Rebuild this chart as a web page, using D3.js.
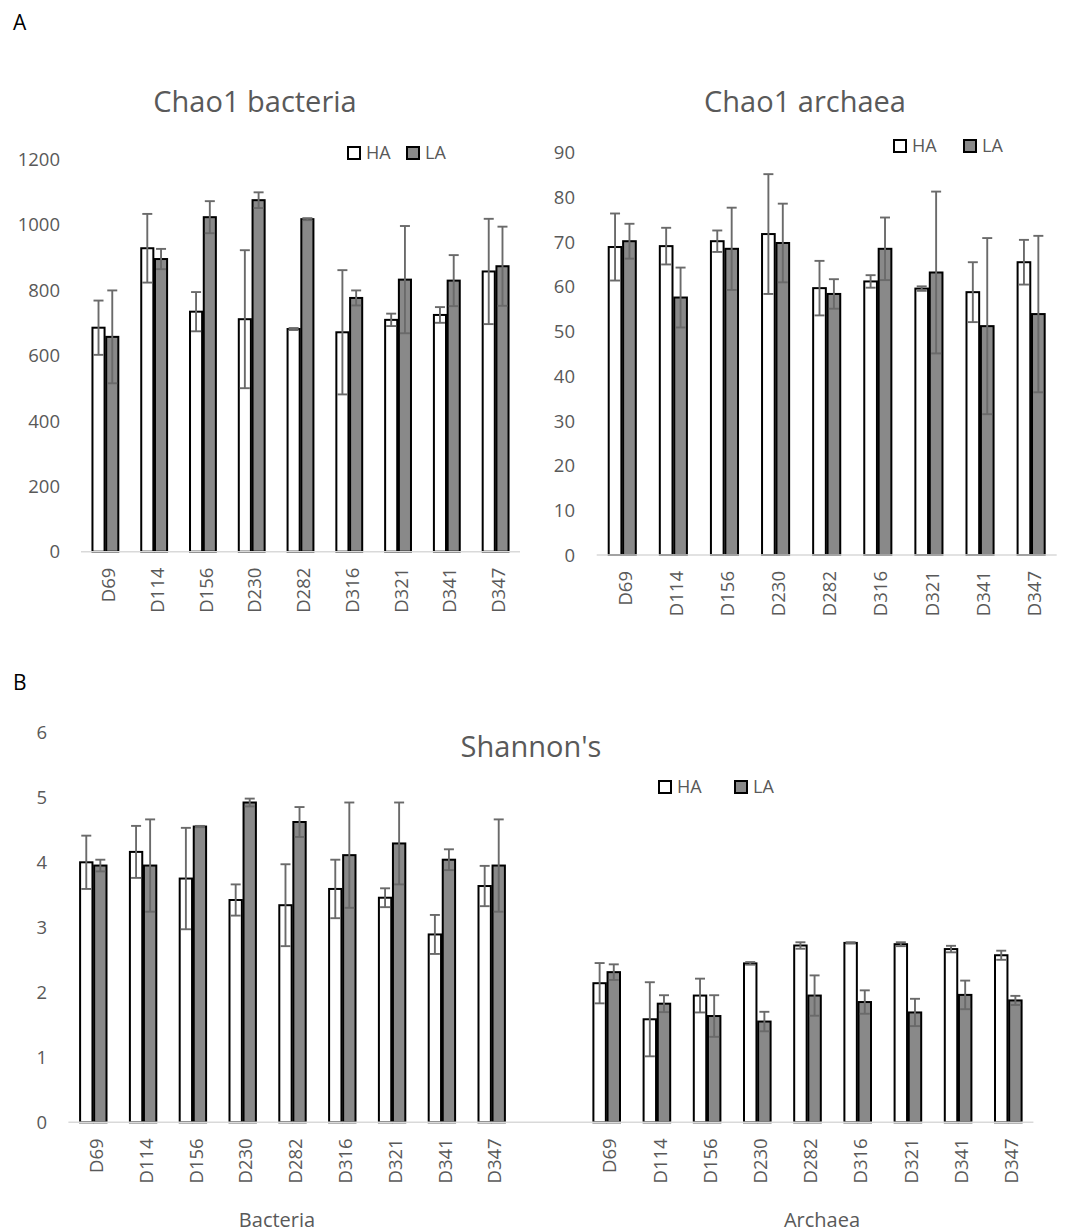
<!DOCTYPE html>
<html>
<head>
<meta charset="utf-8">
<script src="https://cdn.jsdelivr.net/npm/d3@7"></script>
<style>
  body { margin: 0; background: #fff; }
  text { font-family: "Open Sans", sans-serif; fill: #595959; }
</style>
</head>
<body>
<div class="chart"></div>
<script>
// categories and series
var categories = ["D69", "D114", "D156", "D230", "D282", "D316", "D321", "D341", "D347"];
var series = ["HA", "LA"];

// Chao1 bacteria
var chaoBactHA = [685, 928, 734, 711, 681, 671, 709, 724, 857];
var chaoBactHAErr = [83, 105, 60, 211, 3, 190, 19, 24, 161];
var chaoBactLA = [657, 895, 1023, 1075, 1017, 776, 832, 829, 873];
var chaoBactLAErr = [142, 31, 49, 24, 3, 23, 164, 78, 121];

// Chao1 archaea
var chaoArchHA = [68.9, 69.1, 70.2, 71.8, 59.7, 61.2, 59.6, 58.8, 65.5];
var chaoArchHAErr = [7.5, 4.1, 2.4, 13.4, 6.1, 1.4, 0.5, 6.7, 5.0];
var chaoArchLA = [70.2, 57.6, 68.5, 69.8, 58.4, 68.5, 63.2, 51.2, 53.9];
var chaoArchLAErr = [3.9, 6.7, 9.2, 8.8, 3.3, 7.0, 18.1, 19.7, 17.5];

// Shannon's bacteria
var shanBactHA = [4.00, 4.16, 3.75, 3.42, 3.34, 3.59, 3.455, 2.89, 3.635];
var shanBactHAErr = [0.41, 0.40, 0.78, 0.24, 0.63, 0.45, 0.145, 0.30, 0.31];
var shanBactLA = [3.95, 3.95, 4.55, 4.92, 4.62, 4.11, 4.29, 4.04, 3.95];
var shanBactLAErr = [0.09, 0.71, 0.01, 0.06, 0.23, 0.81, 0.63, 0.16, 0.71];

// Shannon's archaea
var shanArchHA = [2.14, 1.585, 1.95, 2.445, 2.72, 2.76, 2.74, 2.665, 2.57];
var shanArchHAErr = [0.31, 0.57, 0.26, 0.02, 0.05, 0.01, 0.03, 0.05, 0.07];
var shanArchLA = [2.31, 1.825, 1.635, 1.55, 1.95, 1.85, 1.69, 1.96, 1.875];
var shanArchLAErr = [0.12, 0.13, 0.32, 0.15, 0.31, 0.18, 0.21, 0.22, 0.07];

// tick values
var chaoBactTicks = [0, 200, 400, 600, 800, 1000, 1200];
var chaoArchTicks = [0, 10, 20, 30, 40, 50, 60, 70, 80, 90];
var shanTicks = [0, 1, 2, 3, 4, 5, 6];

var svgWidth = 1072;
var svgHeight = 1232;
var fills = { HA: "#ffffff", LA: "#898989" };

var svg = d3.select(".chart")
  .append("svg")
  .attr("width", svgWidth)
  .attr("height", svgHeight);

// build rows of {cat, key, value, err}
function makeRows(ha, haErr, la, laErr) {
  var rows = [];
  categories.forEach(function(c, i) {
    rows.push({ cat: c, key: "HA", value: ha[i], err: haErr[i] });
    rows.push({ cat: c, key: "LA", value: la[i], err: laErr[i] });
  });
  return rows;
}

function bandScale(x0, x1) {
  return d3.scaleBand()
    .domain(categories)
    .range([x0, x1])
    .paddingInner(0.47)
    .paddingOuter(0.235);
}

// draw bars, error bars and category labels
function drawBars(xScale, yScale, rows) {
  var xSub = d3.scaleBand()
    .domain(series)
    .range([0, xScale.bandwidth()])
    .paddingInner(0.12);

  var g = svg.append("g");

  g.selectAll("rect")
    .data(rows)
    .enter()
    .append("rect")
    .attr("x", d => xScale(d.cat) + xSub(d.key))
    .attr("y", d => yScale(d.value))
    .attr("width", xSub.bandwidth())
    .attr("height", d => yScale(0) - yScale(d.value))
    .attr("fill", d => fills[d.key])
    .attr("stroke", "#000")
    .attr("stroke-width", 2);

  var cap = 5;
  var mid = d => xScale(d.cat) + xSub(d.key) + xSub.bandwidth() / 2;
  var eb = g.selectAll(".err")
    .data(rows)
    .enter()
    .append("g")
    .attr("class", "err")
    .attr("stroke", "#6a6a6a")
    .attr("stroke-width", 1.9);

  eb.append("line")
    .attr("x1", mid)
    .attr("x2", mid)
    .attr("y1", d => yScale(d.value - d.err))
    .attr("y2", d => yScale(d.value + d.err));
  eb.append("line")
    .attr("x1", d => mid(d) - cap)
    .attr("x2", d => mid(d) + cap)
    .attr("y1", d => yScale(d.value + d.err))
    .attr("y2", d => yScale(d.value + d.err));
  eb.append("line")
    .attr("x1", d => mid(d) - cap)
    .attr("x2", d => mid(d) + cap)
    .attr("y1", d => yScale(d.value - d.err))
    .attr("y2", d => yScale(d.value - d.err));

  // category labels, rotated
  var y0 = yScale(0);
  g.selectAll(".cat")
    .data(categories)
    .enter()
    .append("text")
    .attr("class", "cat")
    .attr("transform", d => `translate(${xScale(d) + xScale.bandwidth() / 2}, ${y0 + 16}) rotate(-90)`)
    .attr("dy", "0.52em")
    .attr("text-anchor", "end")
    .style("font-size", "18.5px")
    .text(d => d);
}

function drawYAxis(yScale, ticks, xRight) {
  svg.append("g")
    .selectAll("text")
    .data(ticks)
    .enter()
    .append("text")
    .attr("x", xRight)
    .attr("y", d => yScale(d))
    .attr("dy", "0.36em")
    .attr("text-anchor", "end")
    .style("font-size", "18.5px")
    .text(d => d);
}

function drawBaseline(x0, x1, y) {
  svg.append("line")
    .attr("x1", x0).attr("x2", x1)
    .attr("y1", y).attr("y2", y)
    .attr("stroke", "#d9d9d9")
    .attr("stroke-width", 1.5);
}

function drawLegend(xHA, xLA, yTop) {
  var lg = svg.append("g");
  [[xHA, "HA"], [xLA, "LA"]].forEach(function(p) {
    lg.append("rect")
      .attr("x", p[0]).attr("y", yTop)
      .attr("width", 12).attr("height", 12)
      .attr("fill", fills[p[1]])
      .attr("stroke", "#000")
      .attr("stroke-width", 2);
    lg.append("text")
      .attr("x", p[0] + 18)
      .attr("y", yTop + 6)
      .attr("dy", "0.36em")
      .style("font-size", "18px")
      .text(p[1]);
  });
}

function drawTitle(txt, x, y) {
  svg.append("text")
    .attr("x", x).attr("y", y)
    .attr("text-anchor", "middle")
    .style("font-size", "29px")
    .text(txt);
}

// panel letters
svg.append("text").attr("x", 13).attr("y", 30)
  .style("font-size", "21px").style("fill", "#000").text("A");
svg.append("text").attr("x", 13).attr("y", 690)
  .style("font-size", "21px").style("fill", "#000").text("B");

// Chao1 bacteria
var x1 = bandScale(81, 520);
var y1 = d3.scaleLinear().domain([0, 1200]).range([551.7, 159.3]);
drawTitle("Chao1 bacteria", 255, 112);
drawYAxis(y1, chaoBactTicks, 60);
drawBars(x1, y1, makeRows(chaoBactHA, chaoBactHAErr, chaoBactLA, chaoBactLAErr));
drawBaseline(81, 520, y1(0));
drawLegend(348, 407, 147);

// Chao1 archaea
var x2 = bandScale(596.7, 1056.7);
var y2 = d3.scaleLinear().domain([0, 90]).range([555, 152.7]);
drawTitle("Chao1 archaea", 805, 112);
drawYAxis(y2, chaoArchTicks, 575);
drawBars(x2, y2, makeRows(chaoArchHA, chaoArchHAErr, chaoArchLA, chaoArchLAErr));
drawBaseline(596.7, 1056.7, y2(0));
drawLegend(894, 964, 140);

// Shannon's
var x3a = bandScale(68.4, 516.6);
var x3b = bandScale(581.6, 1033.4);
var y3 = d3.scaleLinear().domain([0, 6]).range([1122.3, 732.3]);
drawTitle("Shannon's", 531, 757);
drawYAxis(y3, shanTicks, 47);
drawBars(x3a, y3, makeRows(shanBactHA, shanBactHAErr, shanBactLA, shanBactLAErr));
drawBars(x3b, y3, makeRows(shanArchHA, shanArchHAErr, shanArchLA, shanArchLAErr));
drawBaseline(68.4, 1033.4, y3(0));
drawLegend(659, 735, 781);

svg.append("text").attr("x", 277).attr("y", 1227)
  .attr("text-anchor", "middle").style("font-size", "20px").text("Bacteria");
svg.append("text").attr("x", 822).attr("y", 1227)
  .attr("text-anchor", "middle").style("font-size", "20px").text("Archaea");
</script>
</body>
</html>
